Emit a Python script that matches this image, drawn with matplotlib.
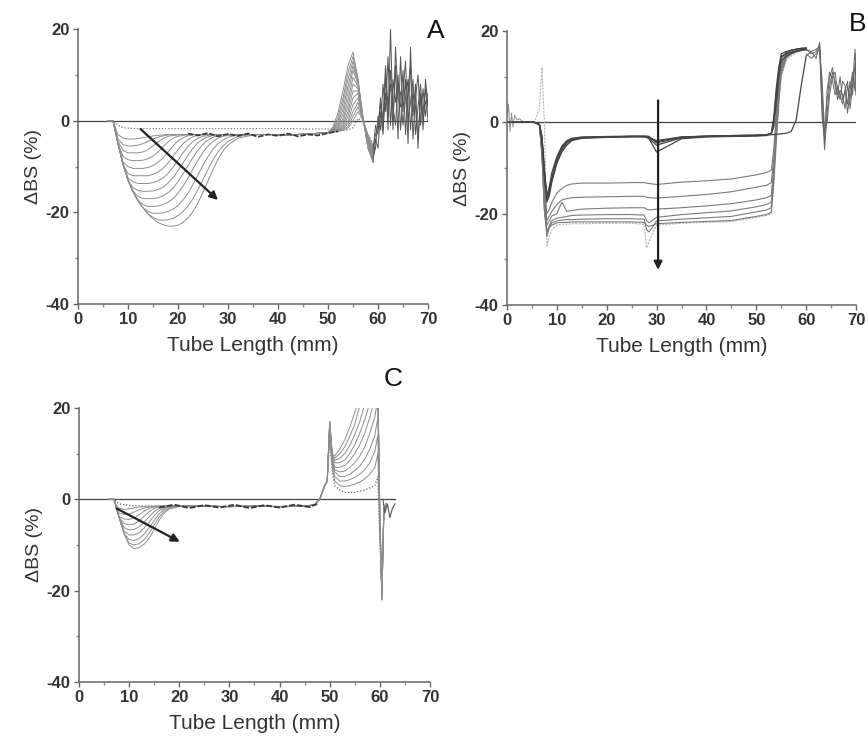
import matplotlib
matplotlib.use("Agg")
import matplotlib.pyplot as plt
from matplotlib.ticker import MultipleLocator

plt.rcParams['font.family'] = ['Liberation Sans', 'DejaVu Sans']
plt.rcParams['axes.unicode_minus'] = False

# ---------------- Panel A ----------------
xa_dip = [6, 7, 8, 9, 10, 11, 12, 13, 14, 15, 16, 17, 18, 19, 20, 21, 22, 23, 24,
          25, 26, 27, 28, 29, 30, 32, 35]
a_dip = [
    [0, 0, -1, -1.5, -1.6, -1.7, -1.7, -1.7, -1.7, -1.7, -1.7, -1.7, -1.7, -1.7, -1.7,
     -1.7, -1.7, -1.7, -1.7, -1.7, -1.7, -1.7, -1.7, -1.7, -1.7, -1.7, -1.7],
    [0, 0, -3, -3.8, -4, -4, -3.9, -3.7, -3.5, -3.3, -3.2, -3.1, -3, -3, -3,
     -3, -3, -3, -3, -3, -3, -3, -3, -3, -3, -3, -3],
    [0, 0, -4, -5.2, -5.5, -5.5, -5.3, -5, -4.5, -4, -3.6, -3.3, -3.1, -3, -3,
     -3, -3, -3, -3, -3, -3, -3, -3, -3, -3, -3, -3],
    [0, 0, -4.5, -6.5, -7, -7, -7, -6.8, -6.3, -5.5, -4.6, -3.9, -3.4, -3.2, -3.1,
     -3, -3, -3, -3, -3, -3, -3, -3, -3, -3, -3, -3],
    [0, 0, -5, -7.8, -8.5, -8.7, -8.7, -8.6, -8.3, -7.7, -6.8, -5.7, -4.6, -3.8, -3.4,
     -3.2, -3.1, -3, -3, -3, -3, -3, -3, -3, -3, -3, -3],
    [0, 0, -5, -9, -10, -10.4, -10.4, -10.4, -10.2, -9.8, -9.1, -8.1, -6.8, -5.5, -4.4,
     -3.7, -3.3, -3.1, -3, -3, -3, -3, -3, -3, -3, -3, -3],
    [0, 0, -5, -9.5, -11.5, -12, -12, -12, -12, -11.7, -11.2, -10.4, -9.2, -7.8, -6.3,
     -5, -4.1, -3.5, -3.2, -3.1, -3, -3, -3, -3, -3, -3, -3],
    [0, 0, -5, -9.5, -12.5, -13.3, -13.7, -13.7, -13.7, -13.5, -13.1, -12.5, -11.5, -10.2, -8.6,
     -7, -5.6, -4.5, -3.8, -3.4, -3.2, -3.1, -3, -3, -3, -3, -3],
    [0, 0, -5, -9.5, -13, -14.6, -15.2, -15.4, -15.4, -15.3, -15, -14.5, -13.6, -12.4, -10.9,
     -9.2, -7.5, -6, -4.8, -4, -3.5, -3.2, -3.1, -3, -3, -3, -3],
    [0, 0, -5, -9.5, -13, -15.3, -16.5, -17, -17, -17, -16.8, -16.4, -15.7, -14.7, -13.3,
     -11.6, -9.8, -8, -6.4, -5.1, -4.2, -3.6, -3.3, -3.1, -3, -3, -3],
    [0, 0, -5, -9.5, -13, -15.5, -17.3, -18.3, -18.7, -18.7, -18.6, -18.3, -17.8, -17, -15.8,
     -14.3, -12.5, -10.5, -8.6, -6.9, -5.5, -4.5, -3.8, -3.4, -3.2, -3, -3],
    [0, 0, -5, -9.5, -13, -15.5, -17.5, -19, -19.8, -20.2, -20.2, -20.1, -19.8, -19.3, -18.5,
     -17.3, -15.8, -13.9, -11.8, -9.7, -7.8, -6.2, -5, -4.2, -3.6, -3.1, -3],
    [0, 0, -5, -9.5, -13, -15.5, -17.5, -19, -20.3, -21.1, -21.6, -21.7, -21.6, -21.3, -20.7,
     -19.8, -18.6, -17, -15, -12.8, -10.6, -8.5, -6.8, -5.5, -4.5, -3.4, -3],
    [0, 0, -5, -9.5, -13, -15.5, -17.5, -19, -20.4, -21.4, -22.2, -22.7, -23, -23, -22.8,
     -22.2, -21.2, -19.8, -17.9, -15.6, -13.1, -10.6, -8.4, -6.6, -5.3, -3.8, -3.1],
]
xa_mid = [38, 42, 46]
a_mid = [-3.0, -3.1, -2.9]
a_mid_first = [-1.7, -1.7, -1.8]
xa_pk = [50, 51, 52, 53, 54, 55, 56, 57, 58, 59]
a_pk = [
    [-1.8, -1.9, -2.0, -2.1, -2.0, -1.5, 0.5, -0.5, -3, -5],
    [-2.6, -2.5, -2.3, -2.1, -1.6, 0, 2, 0, -3, -5.5],
    [-2.6, -2.5, -2.3, -2, -1.2, 1, 3, 0.2, -3.5, -6],
    [-2.6, -2.4, -2.2, -1.8, -0.6, 2, 4, 0.3, -3.5, -6.5],
    [-2.6, -2.4, -2.1, -1.5, 0, 3.5, 5, 0.5, -4, -7],
    [-2.6, -2.4, -2, -1.2, 1, 5, 6, 0.5, -4, -7],
    [-2.6, -2.3, -1.8, -0.8, 2, 6.5, 6.5, 0.5, -4.5, -7.5],
    [-2.6, -2.3, -1.6, -0.2, 3.2, 8, 7, 0.5, -4.5, -7.5],
    [-2.6, -2.2, -1.3, 0.5, 4.5, 9.5, 7.5, 0.5, -5, -8],
    [-2.6, -2.1, -1, 1.5, 6, 11, 8, 0.5, -5, -8],
    [-2.6, -2, -0.5, 2.5, 7.5, 12, 8.5, 0.5, -5.5, -8.5],
    [-2.6, -1.8, 0, 3.8, 9, 13, 8.5, 0.5, -5.5, -8.5],
    [-2.6, -1.6, 0.8, 5, 10.5, 14, 9, 0.5, -6, -9],
    [-2.6, -1.3, 1.8, 6.5, 12, 15, 9, 0.5, -6, -9],
]
xa_band = [22, 24, 26, 28, 30, 32, 34, 36, 38, 40, 42, 44, 46, 48, 50, 52]
a_band = [-2.8, -3.2, -2.7, -3.4, -2.9, -3.3, -2.8, -3.5, -3.0, -3.3, -2.8, -3.4, -3.0, -3.2, -2.7, -2.3]
xa_tail = [59, 59.5, 60, 60.5, 61, 61.5, 62, 62.5, 63, 63.5, 64, 64.5, 65, 65.5, 66, 66.5,
           67, 67.5, 68, 68.5, 69, 69.5, 70]
a_tail = [
    [-9, -4, -6, 2, -3, 10, -2, 20, 0, 12, -4, 14, 2, 9, -5, 16, 1, 8, -6, 6, -2, 9, 3],
    [-7, -1, -3, 5, 0, 12, 3, 8, -2, 16, 5, 3, 11, -3, 7, 12, -4, 5, 10, -1, 7, 1, 5],
    [-8, -6, 1, -2, 8, 2, 14, -1, 9, 4, 10, -2, 6, 13, 0, 4, 9, -3, 3, 8, 0, 4, 6],
    [-6, -3, -1, 4, -2, 6, 1, 11, 3, -1, 8, 6, -1, 5, 9, -2, 6, 3, -4, 5, 2, 7, 0],
]
a_arrow = [(12.5, -1.8), (28, -17.3)]

# ---------------- Panel B ----------------
xb = [0, 5.5, 6.5, 7, 7.5, 8, 8.5, 9, 10, 11, 12, 13, 15, 20, 25, 27.5, 28, 28.5, 30, 35,
      40, 45, 50, 52, 53, 53.5, 54, 54.5, 55, 56, 57, 58, 59, 60]
b_upper = [
    [0, 0, -0.5, -3, -10, -17, -15, -12, -8, -5.5, -4.2, -3.6, -3.3, -3.2, -3.1, -3.1, -3.2, -3.3, -4, -3.2,
     -3.1, -3, -2.9, -2.8, -2.5, 0, 6, 11, 14.5, 15, 15.3, 15.5, 15.7, 16],
    [0, 0, -0.5, -4, -12, -17.5, -16, -13, -9, -6.5, -5, -4, -3.5, -3.3, -3.2, -3.2, -3.3, -3.6, -6.5, -3.6,
     -3.2, -3.1, -3, -2.9, -2.6, -1, 4, 10, 14, 15.3, 15.8, 16, 16.2, 16.2],
    [0, 0, -0.5, -3.5, -11, -16, -14, -11, -7.5, -5.2, -4, -3.5, -3.2, -3.1, -3, -3, -3, -3.1, -4.5, -3.3,
     -3, -2.9, -2.8, -2.7, -2.4, 1, 7.5, 12, 15, 15.5, 15.8, 16, 16, 15.8],
    [0, 0, -0.5, -3, -10.5, -16.5, -15, -12.5, -8.5, -6, -4.5, -3.8, -3.4, -3.2, -3.1, -3.1, -3.2, -3.5, -5, -3.4,
     -3.1, -3, -2.9, -2.8, -2.5, 0.5, 5, 10.5, 13.5, 14.5, 15, 15.5, 16, 16],
    [0, 0, -0.5, -3.5, -11.5, -17, -15.5, -12.5, -8.5, -6, -4.5, -3.8, -3.4, -3.2, -3.1, -3.1, -3.2, -3.4, -4.2, -3.2,
     -3, -2.9, -2.8, -2.7, -2.7, -2.7, -2.6, -2.6, -2.5, -2.4, -2, 0.5, 8, 14.5],
]
b_lower = [
    [0, 0, -0.5, -5, -14, -20, -19, -17.5, -15.5, -14.5, -13.8, -13.5, -13.3, -13.3, -13.2, -13.2, -13.3, -13.4, -13.6, -13.1,
     -12.8, -12.4, -11.5, -11, -10.5, -6, 2, 9, 13, 15, 15.5, 15.8, 16, 16.2],
    [0, 0, -0.5, -6, -16, -21.5, -20.5, -19.5, -18, -17, -16.7, -16.5, -16.4, -16.3, -16.2, -16.2, -16.4, -16.5, -16.6, -16.2,
     -15.8, -15.2, -14.2, -13.8, -13.2, -8, 0, 8, 12.5, 15, 15.6, 16, 16.2, 16.4],
    [0, 0, -0.5, -6, -17, -22.5, -21.5, -20.5, -20, -17.5, -19.5, -19.3, -19, -18.8, -18.7, -18.7, -19, -19.2, -19, -18.7,
     -18.3, -17.8, -17, -16.5, -16, -10, -1, 7, 12, 14.8, 15.5, 16, 16.2, 16.4],
    [0, 0, -0.5, -6.5, -18, -24, -22.5, -21.5, -21, -20.8, -20.6, -20.4, -20.3, -20.2, -20.2, -20.3, -21.5, -22, -20.8, -20.2,
     -19.8, -19.4, -18.5, -18, -17.5, -11, -2, 6, 11.5, 14.5, 15.3, 15.8, 16, 16.2],
    [0, 0, -0.5, -7, -19, -25, -23, -22, -21.6, -21.4, -21.3, -21.3, -21.2, -21.1, -21.1, -21.2, -23.5, -24, -21.6, -21.2,
     -20.9, -20.6, -19.6, -19.2, -18.7, -12, -3, 5, 11, 14.3, 15.2, 15.8, 16, 16.2],
    [0, 0, -0.5, -7, -19.5, -24, -23, -22.5, -22, -21.9, -21.9, -21.8, -21.8, -21.8, -21.8, -21.9, -22.5, -22.8, -22.2, -21.9,
     -21.7, -21.5, -20.6, -20.2, -19.7, -13, -4, 4.5, 10.5, 14, 15, 15.6, 16, 16.2],
]
b_light = [0, 0, 3, 12, 0, -27, -25, -23.5, -22.5, -22.3, -22.3, -22.2, -22.2, -22.1, -22.1, -22.3, -27.5, -26, -22.5, -22.1,
           -21.9, -21.7, -20.8, -20.4, -20, -14, -5, 3, 10, 13.5, 14.5, 15.3, 15.8, 16]
xb_head = [0, 0.3, 0.6, 0.9, 1.2, 1.5, 2, 2.5, 3, 4, 5]
b_head = [1, 4, -2, 2, -1, 1.5, 0.5, 0.8, 0.3, 0, 0]
xb_tail = [60, 61, 62, 62.7, 63.2, 63.7, 64.2, 64.7, 65.3, 65.8, 66.3, 66.8, 67.3, 67.8, 68.3,
           68.8, 69.3, 69.8, 70]
b_tail = [
    [16, 15, 15.5, 17, 6, -4, 5, 10, 12, 8, 6, 10, 5, 7, 4, 9, 6, 13, 8],
    [16, 15.5, 16, 16.5, 3, -6, 2, 8, 11, 9, 5, 7, 6, 3, 8, 5, 10, 7, 15],
    [15, 14, 15, 16, 9, -2, 0, 6, 10, 11, 7, 5, 9, 8, 2, 7, 11, 8, 6],
    [14.5, 15.5, 14, 17.5, 1, -3, 7, 11, 9, 6, 8, 6, 4, 7, 9, 3, 8, 16, 10],
]
b_arrow = [(30.3, 4.8), (30.3, -32.3)]

# ---------------- Panel C ----------------
xc_dip = [6, 7, 7.5, 8, 9, 10, 11, 12, 13, 14, 15, 16, 17, 18, 20]
c_dip = [
    [0, 0, -0.5, -1, -1.2, -1.3, -1.4, -1.4, -1.5, -1.5, -1.5, -1.5, -1.5, -1.5, -1.5],
    [0, 0, -1.5, -2, -2.2, -2.1, -1.9, -1.7, -1.6, -1.5, -1.5, -1.5, -1.5, -1.5, -1.5],
    [0, 0, -2, -3, -3.3, -3.2, -2.8, -2.3, -1.9, -1.7, -1.6, -1.5, -1.5, -1.5, -1.5],
    [0, 0, -2, -3.8, -4.3, -4.4, -4.1, -3.4, -2.6, -2, -1.7, -1.6, -1.5, -1.5, -1.5],
    [0, 0, -2, -4, -5.3, -5.6, -5.4, -4.7, -3.7, -2.7, -2, -1.7, -1.6, -1.5, -1.5],
    [0, 0, -2, -4, -6.2, -6.7, -6.6, -6, -5, -3.8, -2.7, -2, -1.7, -1.6, -1.5],
    [0, 0, -2, -4, -7, -7.8, -7.8, -7.3, -6.3, -5, -3.6, -2.5, -1.9, -1.6, -1.5],
    [0, 0, -2, -4, -7.5, -8.8, -9, -8.6, -7.6, -6.2, -4.6, -3.2, -2.2, -1.7, -1.5],
    [0, 0, -2, -4, -7.5, -9.6, -10, -9.7, -8.8, -7.4, -5.6, -3.9, -2.6, -1.9, -1.5],
    [0, 0, -2, -4, -7.5, -10, -10.8, -10.6, -9.8, -8.5, -6.6, -4.6, -3, -2.1, -1.6],
]
xc_mid = [25, 30, 35, 40, 45]
c_mid = [-1.5, -1.6, -1.5, -1.6, -1.5]
xc_fan = [47, 48, 48.5, 49, 49.5, 50, 50.5, 51, 52, 53, 54, 55, 56, 57, 58, 59, 59.6, 60, 60.4, 60.8, 61.2]
c_fan = [
    [-1.2, 0, 1.5, 3, 4, 13, 6, 3, 2, 1.5, 1.5, 1.5, 1.8, 2, 2.5, 3, 5, -10, -18, -3, -1],
    [-1.2, 0, 1.5, 3, 4, 14, 7, 4, 3, 2.8, 3, 3.3, 3.8, 4.5, 5.5, 7, 10, -8, -20, -2, -1.5],
    [-1.2, 0, 1.5, 3, 4, 15, 8, 5, 4, 4, 4.3, 4.8, 5.5, 6.5, 8, 10.5, 14, -6, -21, -2, -1],
    [-1.2, 0, 1.5, 3, 4, 16, 8.5, 6, 5, 5, 5.5, 6.3, 7.3, 8.8, 11, 14, 18, -5, -22, -3, -2],
    [-1.2, 0, 1.5, 3, 4, 16.5, 9, 6.5, 6, 6.2, 7, 8, 9.5, 11.5, 14.5, 18, 22, -4, -20, -2, -1],
    [-1.2, 0, 1.5, 3, 4, 17, 9, 7, 7, 7.4, 8.5, 10, 12, 14.5, 18, 22, 24, -3, -19, -2, -1],
    [-1.2, 0, 1.5, 3, 4, 17, 9.5, 8, 8, 8.6, 10, 12, 14.5, 17.5, 21, 24, 25, -4, -22, -3, -1.5],
    [-1.2, 0, 1.5, 3, 4, 17, 9.5, 8.5, 9, 10, 11.8, 14.2, 17, 21, 24, 25, 25, -3, -21, -2, -1],
    [-1.2, 0, 1.5, 3, 4, 17, 10, 9, 10, 11.5, 13.8, 16.5, 20.5, 24, 25, 25, 25, -4, -22, -2, -1],
    [-1.2, 0, 1.5, 3, 4, 17, 10, 9.5, 11, 13, 15.8, 19, 23, 25, 25, 25, 25, -5, -22, -3, -1],
]
xc_band = [16, 19, 22, 25, 28, 31, 34, 37, 40, 43, 46, 47.5]
c_band = [-1.8, -1.2, -1.9, -1.3, -1.8, -1.2, -1.9, -1.3, -1.8, -1.2, -1.7, -1.0]
xc_tail = [60.6, 61, 61.5, 62, 62.5, 63]
c_tail = [0, -3, -1, -4, -2, -1]
c_arrow = [(7.5, -2), (20.1, -9.3)]

GREY = '#8e8e8e'
DARK = '#3a3a3a'


def style_axes(ax):
    ax.set_xlim(0, 70)
    ax.set_ylim(-40, 20)
    ax.spines['top'].set_visible(False)
    ax.spines['right'].set_visible(False)
    for s in ('left', 'bottom'):
        ax.spines[s].set_color('#666666')
        ax.spines[s].set_linewidth(1.1)
    ax.xaxis.set_major_locator(MultipleLocator(10))
    ax.xaxis.set_minor_locator(MultipleLocator(5))
    ax.yaxis.set_major_locator(MultipleLocator(20))
    ax.yaxis.set_minor_locator(MultipleLocator(10))
    ax.tick_params(which='major', direction='out', length=3.5, width=1, color='#666666',
                   labelsize=12, labelcolor='#333333', pad=2.5)
    ax.tick_params(which='minor', direction='out', length=2, width=1, color='#888888')
    for lab in ax.get_xticklabels() + ax.get_yticklabels():
        lab.set_fontweight('bold')
    ax.set_xlabel('Tube Length (mm)', fontsize=15, color='#333333', labelpad=6)
    ax.set_ylabel('ΔBS (%)', fontsize=14, color='#333333', labelpad=3)


def arrow(ax, pts):
    ax.annotate('', xy=pts[1], xytext=pts[0],
                arrowprops=dict(arrowstyle='-|>', color='#222222', lw=1.6,
                                mutation_scale=12, shrinkA=0, shrinkB=0))


fig = plt.figure(figsize=(8.68, 7.38), dpi=100)
axA = fig.add_axes([0.0899, 0.588, 0.4032, 0.3726])
axB = fig.add_axes([0.5841, 0.5867, 0.4021, 0.3713])
axC = fig.add_axes([0.0910, 0.0759, 0.4044, 0.3713])

# A
axA.axhline(0, color='#444444', lw=0.9)
for k in range(len(a_dip)):
    mid = a_mid_first if k == 0 else a_mid
    xs = xa_dip + xa_mid + xa_pk
    ys = a_dip[k] + mid + a_pk[k]
    if k == 0:
        axA.plot(xs, ys, color='#777777', lw=0.9, ls=(0, (1, 1.5)))
    else:
        axA.plot(xs, ys, color=GREY, lw=0.7)
axA.plot(xa_band, a_band, color=DARK, lw=1.3, ls=(0, (3, 1)))
for t in a_tail:
    axA.plot(xa_tail, t, color='#555555', lw=0.7)
arrow(axA, a_arrow)
style_axes(axA)

# B
axB.axhline(0, color='#444444', lw=0.9)
axB.plot(xb_head, b_head, color=GREY, lw=0.7)
axB.plot(xb, b_light, color='#b5b5b5', lw=0.8, ls=(0, (2, 1)))
for y in b_lower:
    axB.plot(xb, y, color='#7a7a7a', lw=0.8)
for y in b_upper:
    axB.plot(xb, y, color='#444444', lw=0.9)
for t in b_tail:
    axB.plot(xb_tail, t, color='#666666', lw=0.7)
arrow(axB, b_arrow)
style_axes(axB)

# C
axC.plot([0, 63], [0, 0], color='#444444', lw=0.9)
for k in range(len(c_dip)):
    xs = xc_dip + xc_mid + xc_fan
    ys = c_dip[k] + c_mid + c_fan[k]
    if k == 0:
        axC.plot(xs, ys, color='#666666', lw=0.9, ls=(0, (1, 1.5)))
    else:
        axC.plot(xs, ys, color=GREY, lw=0.7)
axC.plot(xc_band, c_band, color=DARK, lw=1.4, ls=(0, (3, 1)))
axC.plot(xc_tail, c_tail, color='#555555', lw=0.8)
arrow(axC, c_arrow)
style_axes(axC)

fig.text(0.502, 0.958, 'A', fontsize=19, color='#111111', ha='center', va='center')
fig.text(0.988, 0.968, 'B', fontsize=19, color='#111111', ha='center', va='center')
fig.text(0.453, 0.487, 'C', fontsize=19, color='#111111', ha='center', va='center')

fig.savefig('out.png', dpi=100, facecolor='white')
